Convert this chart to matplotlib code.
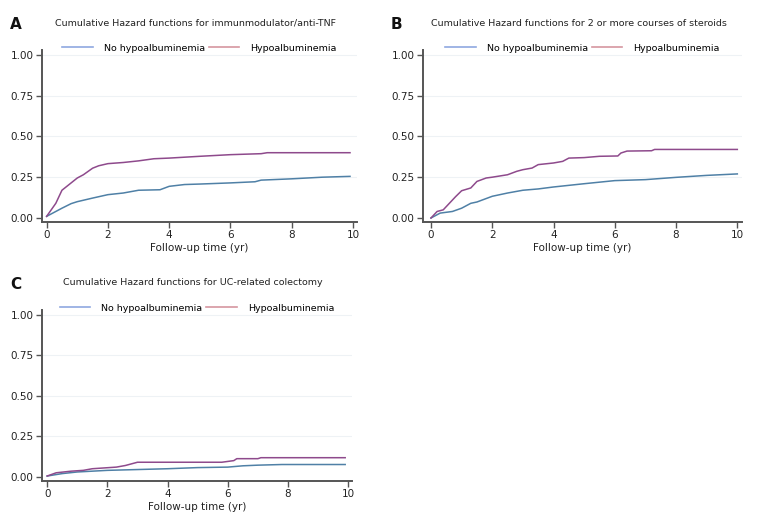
import matplotlib
matplotlib.use("Agg")
import matplotlib.pyplot as plt

BLUE = "#4f80a6"
PINK = "#8e4a8c"
BLUE_LEG = "#8fa8e0"
PINK_LEG = "#d596a0"
AXIS = "#555555"

# panel A: immunmodulator/anti-TNF
a_no_t = [0, 0.3, 0.5, 0.8, 1.0, 1.5, 2.0, 2.5, 3.0, 3.7, 4.0, 4.5, 5.0, 6.0, 6.8, 7.0, 8.0, 9.0, 9.9]
a_no_y = [0.01, 0.04, 0.06, 0.088, 0.10, 0.122, 0.143, 0.153, 0.17, 0.173, 0.194, 0.205, 0.208, 0.215, 0.222, 0.232, 0.24, 0.25, 0.255]
a_hy_t = [0, 0.3, 0.5, 0.7, 1.0, 1.2, 1.5, 1.7, 2.0, 2.5, 3.0, 3.5, 4.0, 5.0, 6.0, 7.0, 7.2, 9.9]
a_hy_y = [0.01, 0.09, 0.17, 0.20, 0.245, 0.265, 0.305, 0.32, 0.333, 0.34, 0.35, 0.363, 0.367, 0.378, 0.388, 0.394, 0.40, 0.40]

# panel B: 2 or more courses of steroids
b_no_t = [0, 0.3, 0.7, 1.0, 1.3, 1.5, 2.0, 2.5, 3.0, 3.5, 4.0, 5.0, 6.0, 7.0, 8.0, 9.0, 10.0]
b_no_y = [0.0, 0.03, 0.04, 0.06, 0.09, 0.098, 0.133, 0.153, 0.17, 0.178, 0.19, 0.21, 0.229, 0.235, 0.249, 0.261, 0.27]
b_hy_t = [0, 0.2, 0.4, 0.6, 0.8, 1.0, 1.3, 1.5, 1.8, 2.0, 2.5, 2.8, 3.0, 3.3, 3.5, 4.0, 4.3, 4.5, 5.0, 5.5, 6.1, 6.2, 6.4, 7.2, 7.3, 10.0]
b_hy_y = [0.0, 0.04, 0.05, 0.09, 0.13, 0.167, 0.184, 0.224, 0.245, 0.25, 0.265, 0.286, 0.296, 0.306, 0.327, 0.337, 0.347, 0.367, 0.37, 0.378, 0.38, 0.398, 0.41, 0.412, 0.42, 0.42]

# panel C: UC-related colectomy
c_no_t = [0, 0.5, 1.0, 2.0, 3.0, 4.0, 5.0, 6.0, 6.5, 7.0, 7.8, 9.9]
c_no_y = [0.005, 0.02, 0.03, 0.04, 0.045, 0.05, 0.057, 0.06, 0.068, 0.072, 0.076, 0.076]
c_hy_t = [0, 0.3, 0.8, 1.2, 1.5, 2.3, 2.6, 2.8, 3.0, 5.8, 6.2, 6.3, 7.0, 7.1, 9.9]
c_hy_y = [0.005, 0.025, 0.035, 0.04, 0.05, 0.06, 0.07, 0.08, 0.09, 0.09, 0.10, 0.112, 0.112, 0.118, 0.118]

titles = [
    "Cumulative Hazard functions for immunmodulator/anti-TNF",
    "Cumulative Hazard functions for 2 or more courses of steroids",
    "Cumulative Hazard functions for UC-related colectomy",
]
letters = ["A", "B", "C"]
x_ticks = [0, 2, 4, 6, 8, 10]
y_ticks = [0.0, 0.25, 0.5, 0.75, 1.0]
labels = ["No hypoalbuminemia", "Hypoalbuminemia"]

panels = [
    ((a_no_t, a_no_y), (a_hy_t, a_hy_y), [0.0553, 0.577, 0.4145, 0.328], (-0.15, 10.13)),
    ((b_no_t, b_no_y), (b_hy_t, b_hy_y), [0.5566, 0.577, 0.42, 0.328], (-0.26, 10.16)),
    ((c_no_t, c_no_y), (c_hy_t, c_hy_y), [0.0553, 0.084, 0.408, 0.326], (-0.17, 10.13)),
]

fig = plt.figure(figsize=(7.6, 5.25), dpi=100)
fig.patch.set_facecolor("white")

for i, (no, hy, pos, xl) in enumerate(panels):
    ax = fig.add_axes(pos)
    for y in y_ticks[1:]:
        ax.axhline(y, color="#eef2f5", lw=0.8, zorder=0)
    ax.plot(no[0], no[1], color=BLUE, lw=1.1)
    ax.plot(hy[0], hy[1], color=PINK, lw=1.1)
    ax.set_xlim(*xl)
    ax.set_ylim(-0.025, 1.03)
    ax.set_xticks(x_ticks)
    ax.set_yticks(y_ticks)
    ax.set_yticklabels([f"{v:.2f}" for v in y_ticks])
    for s in ["top", "right"]:
        ax.spines[s].set_visible(False)
    for s in ["left", "bottom"]:
        ax.spines[s].set_color(AXIS)
        ax.spines[s].set_linewidth(1.4)
    ax.tick_params(colors=AXIS, labelcolor="#222222", labelsize=7.5, length=4, width=1, pad=2)
    ax.set_xlabel("Follow-up time (yr)", fontsize=7.5, color="#222222", labelpad=2)

    h1, = ax.plot([], [], color=BLUE_LEG, lw=1.2)
    h2, = ax.plot([], [], color=PINK_LEG, lw=1.2)
    ax.legend([h1, h2], labels, loc="center", bbox_to_anchor=(0.5, 1.01), ncol=2,
              frameon=False, fontsize=6.8, handlelength=3.2, handletextpad=1.2,
              columnspacing=0.4, borderaxespad=0, borderpad=0)

    x0, y0, w, h = pos
    fig.text(x0 + w / 2 - 0.005, y0 + h + 0.051, titles[i], ha="center", va="center",
             fontsize=6.8, color="#222222")
    fig.text(x0 - 0.035, y0 + h + 0.049, letters[i], ha="center", va="center",
             fontsize=11, fontweight="bold", color="#111111")

fig.savefig("out.png", dpi=100)
